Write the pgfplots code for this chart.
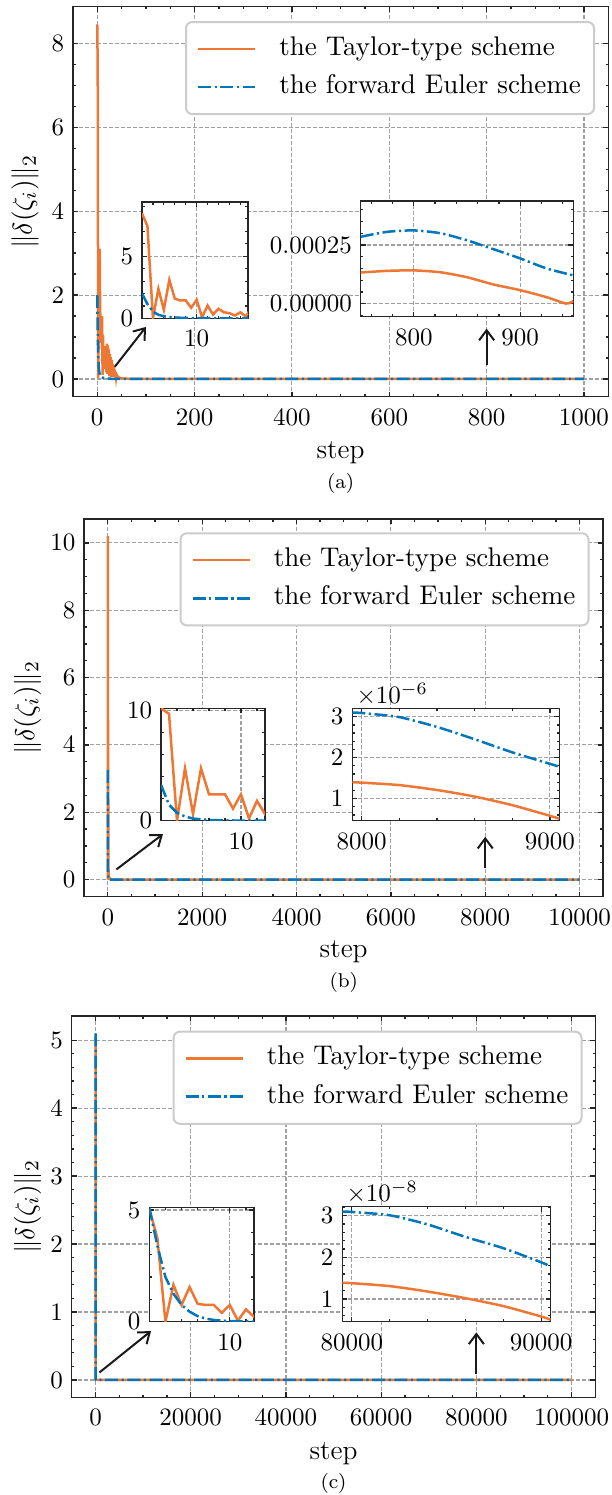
\documentclass[border=0pt]{standalone}
\usepackage{fontspec}
\usepackage{pgfplots}
\usepackage{pgfplotstable}
\pgfplotsset{compat=1.18}
\usetikzlibrary{arrows.meta}
\definecolor{vorange}{HTML}{EE7733}
\definecolor{vblue}{HTML}{0077BB}
\definecolor{gridgray}{HTML}{A0A0A0}

\pgfplotstableread{
x y
0 8.45
1 7.4
2 0.02
3 2.38
4 0.7
5 3.1
6 1.6
7 1.45
8 1.45
9 0.86
10 1.5
11 0.1
12 1.04
13 0.32
14 0.78
15 0.5
16 0.43
17 0.24
18 0.5
19 0.16
20 0.84
21 0.12
22 0.8
23 0.25
24 0.7
25 0.06
26 0.6
27 0.18
28 0.52
29 0.05
30 0.45
31 0.1
32 0.36
33 0.05
34 0.3
35 0.08
36 0.22
37 0.04
38 0.16
39 0.03
40 0.1
42 0.06
45 0.03
50 0.015
60 0.006
100 0.002
200 0.0008
400 0.0004
600 0.0002
750 0.000133
775 0.000140
800 0.000142
825 0.000134
850 0.000113
875 0.000082
900 0.000058
925 0.000028
943 0.000001
950 0.000011
1000 0.00006
}\Aor

\pgfplotstableread{
x y
0 2.0
1 1.15
2 0.55
3 0.3
4 0.18
5 0.12
6 0.08
7 0.06
8 0.05
9 0.04
10 0.035
12 0.03
14 0.02
16 0.015
18 0.012
20 0.01
30 0.005
50 0.002
100 0.001
200 0.0006
400 0.00045
600 0.00035
750 0.000285
775 0.000306
800 0.000312
825 0.000300
850 0.000270
875 0.000232
900 0.000193
925 0.000150
950 0.000121
1000 0.00008
}\Abl

\pgfplotstableread{
x y
0 10.2
1 9.7
2 0.0
3 4.75
4 0.6
5 4.75
6 2.4
7 2.4
8 2.4
9 1.1
10 2.4
11 0.2
12 1.8
13 0.6
14 1.4
15 0.3
20 0.1
50 0.01
100 0.001
500 0.0001
1000 3e-5
2000 1e-5
4000 4e-6
6000 2e-6
7950 1.40e-6
8000 1.39e-6
8200 1.33e-6
8400 1.21e-6
8600 1.05e-6
8800 0.84e-6
9000 0.58e-6
9050 0.51e-6
10000 0.2e-6
}\Bor

\pgfplotstableread{
x y
0 3.26
1 1.45
2 0.72
3 0.38
4 0.2
5 0.12
6 0.07
7 0.045
8 0.03
9 0.02
10 0.015
11 0.01
12 0.008
13 0.006
20 0.002
50 0.0003
100 0.0001
500 2e-5
1000 1e-5
2000 7e-6
4000 5e-6
6000 4e-6
7950 3.10e-6
8000 3.09e-6
8200 2.99e-6
8400 2.75e-6
8600 2.45e-6
8800 2.13e-6
9000 1.85e-6
9050 1.78e-6
10000 1.2e-6
}\Bbl

\pgfplotstableread{
x y
0 5.05
1 3.75
2 0.0
3 1.65
4 0.75
5 1.55
6 0.8
7 0.75
8 0.75
9 0.4
10 0.75
11 0.05
12 0.55
13 0.22
14 0.45
15 0.1
20 0.05
50 0.005
100 0.001
1000 1e-5
10000 1e-6
50000 1e-7
79500 1.39e-8
80000 1.38e-8
82000 1.31e-8
84000 1.18e-8
86000 1.02e-8
88000 0.83e-8
90000 0.58e-8
90500 0.50e-8
100000 0.3e-8
}\Cor

\pgfplotstableread{
x y
0 5.1
1 3.4
2 2.0
3 1.25
4 0.75
5 0.45
6 0.25
7 0.14
8 0.08
9 0.05
10 0.03
11 0.02
12 0.012
13 0.008
20 0.002
50 1e-4
100 1e-5
1000 1e-6
10000 2e-7
50000 6e-8
79500 3.10e-8
80000 3.09e-8
82000 3.01e-8
84000 2.79e-8
86000 2.49e-8
88000 2.22e-8
90000 1.88e-8
90500 1.78e-8
100000 1.2e-8
}\Cbl

\tikzset{arrowst/.style={-{Straight Barb[length=4pt,width=6pt,line width=0.8pt]}, line width=0.8pt, black!90}}

\pgfplotsset{
  base/.style={
    scale only axis,
    anchor=north west,
    axis line style={line width=0.6pt, black!85},
    tick align=inside,
    major tick length=2pt,
    minor tick length=1.1pt,
    every tick/.style={black!85, line width=0.5pt},
    grid=major,
    grid style={gridgray, line width=0.45pt, dash pattern=on 1.6pt off 0.8pt},
    scaled x ticks=false,
    xticklabel style={/pgf/number format/fixed, /pgf/number format/set thousands separator={}},
    xticklabel shift=1.4pt,
  },
  orangeline/.style={vorange, line width=1pt, solid},
  blueline/.style={vblue, line width=1pt, dash pattern=on 5.2pt off 1.4pt on 0.9pt off 1.4pt},
  mainax/.style={base,
    legend cell align=left,
    legend image code/.code={\draw[##1] (0pt,0pt) -- (22.8pt,0pt); \path[draw=none,fill=none] (0pt,-0.1pt) rectangle (31.5pt,0.1pt);},
    legend style={anchor=north east, draw=black!20, line width=0.8pt, rounded corners=2.5pt, fill=white, inner xsep=4.3pt, inner ysep=4.8pt, row sep=3.3pt, font=\fontsize{10.8}{13}\selectfont, nodes={inner sep=1pt, text depth=0.24em}},
    xlabel={step},
    ylabel={$\|\delta(\zeta_i)\|_2$},
    label style={font=\fontsize{11}{13}\selectfont},
  },
  insetax/.style={base, axis background/.style={fill=white}},
  sclabel/.style={ytick scale label code/.code={$\times10^{##1}$},
    every y tick scale label/.style={at={(rel axis cs:0,1)}, anchor=south west, inner sep=1pt, xshift=0.5pt}},
}

\begin{document}
\begin{tikzpicture}
\useasboundingbox (0,0) rectangle (244.4pt,-598pt);

% ---------------- (a) ----------------
\begin{axis}[mainax, at={(29.16pt,-2.68pt)}, width=214.16pt, height=156pt,
  xmin=-50, xmax=1050, ymin=-0.4225, ymax=8.8725,
  xtick={0,200,...,1000}, minor x tick num=3,
  ytick={0,2,...,8}, minor y tick num=3,
  legend style={at={(0.9752,0.9633)}},
  ylabel style={at={(axis description cs:-0.0895,0.5)}, anchor=center},
  xlabel style={at={(axis description cs:0.5,-0.1426)}, anchor=center}]
\addplot[orangeline] table {\Aor}; \addlegendentry{the Taylor-type scheme}
\addplot[blueline] table {\Abl}; \addlegendentry{the forward Euler scheme}
\draw[arrowst] (axis cs:36,0.29) -- (axis cs:100,1.24);
\draw[arrowst] (axis cs:800,0.33) -- (axis cs:800,1.2);
\end{axis}

\begin{axis}[insetax, at={(56.8pt,-80.8pt)}, width=42.4pt, height=46.6pt,
  xmin=0, xmax=19.4, ymin=0, ymax=9.35,
  xtick={10}, minor xtick={2,4,6,8,12,14,16,18},
  ytick={0,5}, minor ytick={1,2,3,4,6,7,8,9}]
\addplot[orangeline, restrict x to domain=0:20] table {\Aor};
\addplot[blueline, restrict x to domain=0:20] table {\Abl};
\end{axis}

\begin{axis}[insetax, at={(144.28pt,-80.4pt)}, width=85.04pt, height=46.28pt,
  xmin=750, xmax=950, ymin=-0.000055, ymax=0.000437,
  xtick={800,900}, minor xtick={760,780,820,840,860,880,920,940},
  ytick={0,0.00025}, minor ytick={-0.00005,0.00005,0.0001,0.00015,0.0002,0.0003,0.00035,0.0004},
  scaled y ticks=false,
  yticklabel style={/pgf/number format/fixed, /pgf/number format/precision=5, /pgf/number format/fixed zerofill}]
\addplot[orangeline, smooth, tension=0.4, restrict x to domain=750:950] table {\Aor};
\addplot[blueline, smooth, tension=0.4, restrict x to domain=750:950] table {\Abl};
\end{axis}

\node[font=\fontsize{8}{9}\selectfont] at (136.24pt,-193.2pt) {(a)};

% ---------------- (b) ----------------
\begin{axis}[mainax, at={(33.68pt,-207.6pt)}, width=207.6pt, height=151.08pt,
  xmin=-500, xmax=10500, ymin=-0.51, ymax=10.71,
  xtick={0,2000,4000,6000,8000,10000}, minor x tick num=3,
  ytick={0,2,...,10}, minor y tick num=3,
  legend style={at={(0.9736,0.9648)}},
  ylabel style={at={(axis description cs:-0.1093,0.5)}, anchor=center},
  xlabel style={at={(axis description cs:0.5,-0.1456)}, anchor=center}]
\addplot[orangeline] table {\Bor}; \addlegendentry{the Taylor-type scheme}
\addplot[blueline] table {\Bbl}; \addlegendentry{the forward Euler scheme}
\draw[arrowst] (axis cs:182,0.30) -- (axis cs:1170,1.35);
\draw[arrowst] (axis cs:8000,0.35) -- (axis cs:8000,1.27);
\end{axis}

\begin{axis}[insetax, at={(64.4pt,-283.32pt)}, width=41.6pt, height=44.96pt,
  xmin=0, xmax=13, ymin=0, ymax=10.2,
  xtick={10}, minor xtick={2,4,6,8,12},
  ytick={0,10}, minor ytick={2,4,6,8}]
\addplot[orangeline, restrict x to domain=0:15] table {\Bor};
\addplot[blueline, restrict x to domain=0:15] table {\Bbl};
\end{axis}

\begin{axis}[insetax, sclabel, at={(140.92pt,-283.32pt)}, width=82.8pt, height=44.96pt,
  xmin=7950, xmax=9050, ymin=0.46e-6, ymax=3.205e-6,
  xtick={8000,9000}, minor xtick={8200,8400,8600,8800},
  ytick={1e-6,2e-6,3e-6},
  minor ytick={0.6e-6,0.8e-6,1.2e-6,1.4e-6,1.6e-6,1.8e-6,2.2e-6,2.4e-6,2.6e-6,2.8e-6,3.2e-6},
  scaled y ticks=base 10:6]
\addplot[orangeline, smooth, tension=0.4, restrict x to domain=7950:9050] table {\Bor};
\addplot[blueline, smooth, tension=0.4, restrict x to domain=7950:9050] table {\Bbl};
\end{axis}

\node[font=\fontsize{8}{9}\selectfont] at (137.5pt,-392.9pt) {(b)};

% ---------------- (c) ----------------
\begin{axis}[mainax, at={(28.68pt,-406.4pt)}, width=209.48pt, height=152.52pt,
  xmin=-5000, xmax=105000, ymin=-0.255, ymax=5.355,
  xtick={0,20000,40000,60000,80000,100000}, minor x tick num=3,
  ytick={0,1,2,3,4,5}, minor y tick num=4,
  legend style={at={(0.9754,0.9614)}},
  ylabel style={at={(axis description cs:-0.0845,0.5)}, anchor=center},
  xlabel style={at={(axis description cs:0.5,-0.1469)}, anchor=center}]
\addplot[orangeline] table {\Cor}; \addlegendentry{the Taylor-type scheme}
\addplot[blueline] table {\Cbl}; \addlegendentry{the forward Euler scheme}
\draw[arrowst] (axis cs:818,0.11) -- (axis cs:11660,0.72);
\draw[arrowst] (axis cs:80000,0.084) -- (axis cs:80000,0.70);
\end{axis}

\begin{axis}[insetax, at={(59.72pt,-483.08pt)}, width=41.88pt, height=45.6pt,
  xmin=0, xmax=13, ymin=0, ymax=5.1,
  xtick={10}, minor xtick={2,4,6,8,12},
  ytick={0,5}, minor ytick={1,2,3,4}]
\addplot[orangeline, restrict x to domain=0:15] table {\Cor};
\addplot[blueline, restrict x to domain=0:15] table {\Cbl};
\end{axis}

\begin{axis}[insetax, sclabel, at={(136.92pt,-482.68pt)}, width=83.36pt, height=46pt,
  xmin=79500, xmax=90500, ymin=0.455e-8, ymax=3.215e-8,
  xtick={80000,90000}, minor xtick={82000,84000,86000,88000},
  ytick={1e-8,2e-8,3e-8},
  minor ytick={0.6e-8,0.8e-8,1.2e-8,1.4e-8,1.6e-8,1.8e-8,2.2e-8,2.4e-8,2.6e-8,2.8e-8,3.2e-8},
  scaled y ticks=base 10:8]
\addplot[orangeline, smooth, tension=0.4, restrict x to domain=79500:90500] table {\Cor};
\addplot[blueline, smooth, tension=0.4, restrict x to domain=79500:90500] table {\Cbl};
\end{axis}

\node[font=\fontsize{8}{9}\selectfont] at (133.4pt,-593.3pt) {(c)};

\end{tikzpicture}
\end{document}
